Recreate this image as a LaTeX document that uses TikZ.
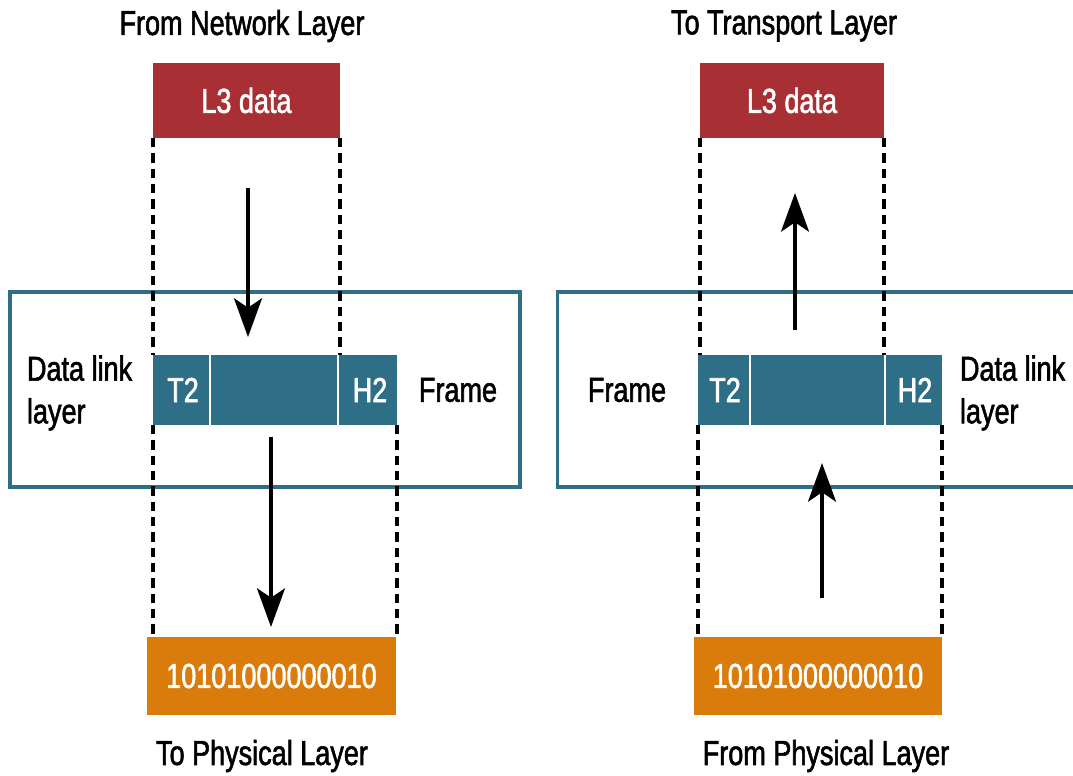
\documentclass[tikz,border=0pt]{standalone}
\usepackage{fontspec}
\setmainfont{Liberation Sans}[FakeStretch=0.78,FakeBold=1.6]
\usetikzlibrary{arrows.meta}
\definecolor{l3red}{HTML}{A83034}
\definecolor{dlteal}{HTML}{2E6E86}
\definecolor{binorange}{HTML}{D97C0B}
\tikzset{
  every node/.style={inner sep=0pt,outer sep=0pt,font=\fontsize{26pt}{31pt}\selectfont},
  l3box/.style={fill=l3red,text=white,minimum height=56.25pt},
  framebar/.style={fill=dlteal,text=white,minimum width=183pt,minimum height=52.5pt},
  binbox/.style={fill=binorange,text=white,minimum height=58.5pt},
  dlbox/.style={draw=dlteal,line width=2.4pt,minimum height=146.25pt},
  guide/.style={line width=2.3pt,dash pattern=on 7pt off 4.5pt},
  divider/.style={draw=white,line width=1.9pt},
  flow/.style={line width=2.4pt,-{Stealth[length=29pt,width=21pt,inset=7pt]}},
  lbl/.style={text=black},
  wlbl/.style={text=white}
}
\begin{document}
\begin{tikzpicture}[x=0.75pt,y=-0.75pt]
\useasboundingbox (0,0) rectangle (1073,775);
\clip (0,0) rectangle (1073,775);
\fill[white] (0,0) rectangle (1073,775);

% ---------- left side ----------
\node[lbl] (tnl) at (242,26) {From Network Layer};
\node[l3box,minimum width=140.25pt] (l3L) at (246.5,100.5) {L3 data};
\node[dlbox,minimum width=382.5pt] (dlL) at (265,389.5) {};
\node[framebar] (frL) at (275,390) {};
\coordinate (dL1) at (210,355);
\coordinate (dL2) at (338,355);
\draw[divider] (dL1) -- (dL1 |- frL.south);
\draw[divider] (dL2) -- (dL2 |- frL.south);
\node[wlbl] (t2L) at (183,390) {T2};
\node[wlbl] (h2L) at (370,390) {H2};
\node[lbl,align=left,anchor=west,font=\fontsize{26pt}{32pt}\selectfont] (dllL) at (27,393) {Data link\\layer};
\node[lbl] (fmL) at (458,390) {Frame};
\node[binbox,minimum width=186.75pt] (binL) at (271.5,676) {10101000000010};
\node[lbl] (tpl) at (262,756) {To Physical Layer};

\draw[guide] (l3L.south west) -- (l3L.south west |- frL.north);
\draw[guide] (l3L.south east) -- (l3L.south east |- frL.north);
\draw[guide] (frL.south west) -- (frL.south west |- binL.north);
\draw[guide] (frL.south east) -- (frL.south east |- binL.north);

\coordinate (aL1s) at (248,188);
\coordinate (aL1e) at (248,337);
\draw[flow] (aL1s) -- (aL1e);
\coordinate (aL2s) at (271,437);
\coordinate (aL2e) at (271,627);
\draw[flow] (aL2s) -- (aL2e);

% ---------- right side ----------
\node[lbl] (ttl) at (784,26) {To Transport Layer};
\node[l3box,minimum width=138pt] (l3R) at (792,100.5) {L3 data};
\node[dlbox,minimum width=400pt] (dlR) at (824,389.5) {};
\node[framebar] (frR) at (820,390) {};
\coordinate (dR1) at (750,355);
\coordinate (dR2) at (885,355);
\draw[divider] (dR1) -- (dR1 |- frR.south);
\draw[divider] (dR2) -- (dR2 |- frR.south);
\node[wlbl] (t2R) at (725,390) {T2};
\node[wlbl] (h2R) at (915,390) {H2};
\node[lbl] (fmR) at (627,390) {Frame};
\node[lbl,align=left,anchor=west,font=\fontsize{26pt}{32pt}\selectfont] (dllR) at (960,393) {Data link\\layer};
\node[binbox,minimum width=186pt] (binR) at (818,676) {10101000000010};
\node[lbl] (fpl) at (826,756) {From Physical Layer};

\draw[guide] (l3R.south west) -- (l3R.south west |- frR.north);
\draw[guide] (l3R.south east) -- (l3R.south east |- frR.north);
\draw[guide] (frR.south west) -- (frR.south west |- binR.north);
\draw[guide] (frR.south east) -- (frR.south east |- binR.north);

\coordinate (aR1s) at (795,330);
\coordinate (aR1e) at (795,193);
\draw[flow] (aR1s) -- (aR1e);
\coordinate (aR2s) at (822,598);
\coordinate (aR2e) at (822,463);
\draw[flow] (aR2s) -- (aR2e);
\end{tikzpicture}
\end{document}
